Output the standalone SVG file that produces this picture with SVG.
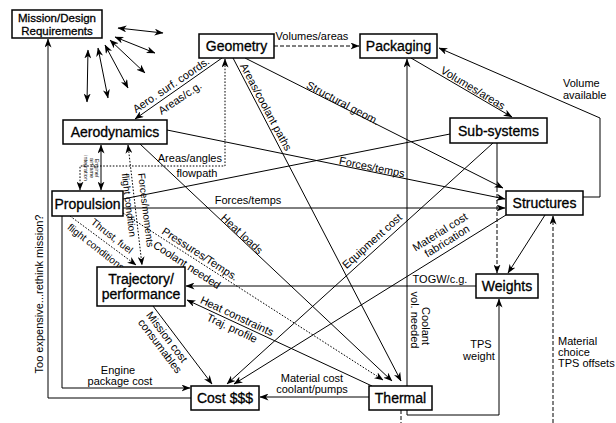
<svg xmlns="http://www.w3.org/2000/svg" width="616" height="423" viewBox="0 0 616 423">
<defs>
<marker id="ah" viewBox="0 0 9 7" refX="8.5" refY="3.5" markerWidth="9" markerHeight="7" markerUnits="userSpaceOnUse" orient="auto-start-reverse">
<path d="M0,0 L9,3.5 L0,7 L2.6,3.5 Z" fill="#000"/>
</marker>
</defs>
<style>
.box{fill:#fff;stroke:#000;stroke-width:1.5}
.nt{font-family:"Liberation Sans",Arial,sans-serif;font-size:14px;text-anchor:middle;fill:#000;stroke:#000;stroke-width:0.3}
.c{fill:none;stroke:#000;stroke-width:1}
.d{stroke-dasharray:1.6,1.6}
.dd{stroke-dasharray:4,2}
.ar{marker-end:url(#ah)}
.ab{marker-start:url(#ah);marker-end:url(#ah)}
.l{font-family:"Liberation Sans",Arial,sans-serif;font-size:11px;fill:#000;text-anchor:middle}
.sm{font-size:10px}
.s{font-family:"Liberation Sans",Arial,sans-serif;font-size:5.5px;fill:#000;text-anchor:middle}
.st{text-anchor:start}
.en{text-anchor:end}
</style>
<rect width="616" height="423" fill="#fff"/>

<g id="connectors">
  <!-- fan of double arrows near Mission/Design Requirements -->
  <path class="c ab" d="M88,50 L87,102"/>
  <path class="c ab" d="M98,48 L108,98"/>
  <path class="c ab" d="M105,45 L128,88"/>
  <path class="c ab" d="M110,40 L145,73"/>
  <path class="c ab" d="M115,37 L155,53"/>
  <path class="c ab" d="M118,28 L163,33"/>

  <!-- Geometry -> Packaging -->
  <path class="c dd ar" d="M274,46 L359,46"/>
  <text class="l" x="312" y="40">Volumes/areas</text>

  <!-- Geometry -> Aerodynamics -->
  <path class="c ar" d="M222,58 L135,119"/>
  <text class="l" transform="translate(171,85) rotate(-34)" y="3.8">Aero. surf. coords.</text>
  <text class="l" transform="translate(180,98) rotate(-34)" y="3.8">Areas/c.g.</text>

  <!-- Geometry -> Structures -->
  <path class="c ar" d="M245,58 L503,188"/>
  <text class="l" transform="translate(343,103) rotate(28)" y="3.8">Structural geom.</text>

  <!-- Geometry -> Thermal -->
  <path class="c ar" d="M233,58 L401,381"/>
  <text class="l" transform="translate(266,107) rotate(62)" y="3.8">Areas/coolant paths</text>

  <!-- Geometry <-> Propulsion (areas/angles, flowpath) -->
  <path class="c d ab" d="M225,59 L225,166 L80,166 L80,190"/>
  <text class="l en" x="222" y="162">Areas/angles</text>
  <text class="l" x="197" y="177">flowpath</text>

  <!-- Aerodynamics -> Structures -->
  <path class="c ar" d="M167,130 L505,199"/>
  <text class="l" transform="translate(372,167) rotate(11.5)" y="3.8">Forces/temps</text>

  <!-- Aerodynamics -> Thermal -->
  <path class="c ar" d="M140,144 L392,381"/>
  <text class="l" transform="translate(242,234) rotate(43)" y="3.8">Heat loads</text>

  <!-- Aerodynamics <-> Propulsion -->
  <path class="c ab" d="M101,145 L101,190"/>
  <g transform="translate(91,168) rotate(90)">
    <text class="s" y="-4">Engine/</text>
    <text class="s" y="1.5">airframe</text>
    <text class="s" y="7">integration</text>
  </g>

  <!-- Aerodynamics <-> Trajectory -->
  <path class="c d ab" d="M128,145 L142,265"/>
  <text class="l sm" transform="translate(146,210) rotate(83)" y="3.5">Forces/moments</text>
  <text class="l sm" transform="translate(129,205) rotate(83)" y="3.5">flight condition</text>

  <!-- Propulsion -> Sub-systems -->
  <path class="c" d="M123,199 L450,134"/>

  <!-- Propulsion -> Structures -->
  <path class="c ar" d="M123,208 L505,208"/>
  <text class="l" x="248" y="204">Forces/temps</text>

  <!-- Propulsion -> Trajectory -->
  <path class="c d ar" d="M70,216 L136,265"/>
  <text class="l sm" transform="translate(112,236) rotate(38)" y="3.5">Thrust, fuel</text>
  <text class="l sm" transform="translate(96,247) rotate(38)" y="3.5">flight conditions</text>

  <!-- Propulsion -> Thermal -->
  <path class="c d ar" d="M123,213 L383,380"/>
  <text class="l" transform="translate(200,254) rotate(33)" y="3.8">Pressures/Temps.</text>
  <text class="l" transform="translate(187,265) rotate(33)" y="3.8">Coolant needed</text>

  <!-- Propulsion -> Cost -->
  <path class="c ar" d="M62,216 L62,388 L190,388"/>
  <text class="l" x="118" y="374">Engine</text>
  <text class="l" x="120" y="385">package cost</text>

  <!-- Cost -> Mission -->
  <path class="c ar" d="M191,398 L48,398 L48,39"/>
  <text class="l" transform="translate(39,294) rotate(-90)" y="3.8">Too expensive...rethink mission?</text>

  <!-- Packaging -> Sub-systems -->
  <path class="c ar" d="M411,58 L512,117"/>
  <text class="l" transform="translate(473,88) rotate(31)" y="3.8">Volumes/areas</text>

  <!-- Structures -> Packaging -->
  <path class="c ar" d="M583,197 L600,197 L600,118 L439,48"/>
  <text class="l st" x="563" y="87">Volume</text>
  <text class="l st" x="563" y="99">available</text>

  <!-- Sub-systems -> Weights -->
  <path class="c" d="M497,143 L497,188"/>
  <path class="c dd ar" d="M497,188 L497,273"/>

  <!-- Sub-systems -> Cost -->
  <path class="c ar" d="M493,143 L227,384"/>
  <text class="l" transform="translate(372,241) rotate(-42)" y="3.8">Equipment cost</text>

  <!-- Structures -> Weights -->
  <path class="c ar" d="M545,215 L508,273"/>

  <!-- Structures -> Cost -->
  <path class="c ar" d="M506,215 L234,384"/>
  <text class="l" transform="translate(440,232) rotate(-32)" y="3.8">Material cost</text>
  <text class="l" transform="translate(447,241) rotate(-32)" y="3.8">fabrication</text>

  <!-- Material choice -> Structures -->
  <path class="c dd ar" d="M553,423 L553,216"/>
  <text class="l st" x="558" y="345">Material</text>
  <text class="l st" x="558" y="356">choice</text>
  <text class="l st" x="558" y="367">TPS offsets</text>

  <!-- Weights -> Trajectory -->
  <path class="c ar" d="M476,286 L186,286"/>
  <text class="l" x="440" y="283">TOGW/c.g.</text>

  <!-- Thermal -> Trajectory -->
  <path class="c ar" d="M372,386 L187,300"/>
  <text class="l" transform="translate(237,316) rotate(25)" y="3.8">Heat constraints</text>
  <text class="l" transform="translate(232,328) rotate(25)" y="3.8">Traj. profile</text>

  <!-- Trajectory -> Cost -->
  <path class="c ar" d="M153,306 L212,384"/>
  <text class="l" transform="translate(167,337) rotate(53)" y="3.8">Mission cost</text>
  <text class="l" transform="translate(160,346) rotate(53)" y="3.8">consumables</text>

  <!-- Thermal -> Packaging -->
  <path class="c ar" d="M407,386 L407,59"/>
  <text class="l" transform="translate(426,326) rotate(90)" y="3.8">Coolant</text>
  <text class="l" transform="translate(415,320) rotate(90)" y="3.8">vol. needed</text>

  <!-- Thermal -> Weights -->
  <path class="c ar" d="M407,410 L407,415 L499,415 L499,299"/>
  <text class="l" x="481" y="348">TPS</text>
  <text class="l" x="479" y="360">weight</text>

  <!-- Thermal -> below -->
  <path class="c dd" d="M401,410 L401,423"/>

  <!-- Thermal -> Cost -->
  <path class="c ar" d="M369,397 L260,397"/>
  <text class="l" x="312" y="382">Material cost</text>
  <text class="l" x="312" y="393">coolant/pumps</text>
</g>

<g id="mission">
  <rect class="box" x="12" y="10" width="90" height="28"/>
  <text class="nt" style="font-size:11.5px" x="57" y="21.5">Mission/Design</text>
  <text class="nt" style="font-size:11.5px" x="57" y="34.5">Requirements</text>
</g>
<g id="geometry">
  <rect class="box" x="199" y="34" width="75" height="24"/>
  <text class="nt" x="236.5" y="51">Geometry</text>
</g>
<g id="packaging">
  <rect class="box" x="360" y="34" width="77" height="24"/>
  <text class="nt" x="398.5" y="51">Packaging</text>
</g>
<g id="aerodynamics">
  <rect class="box" x="63" y="120" width="104" height="24"/>
  <text class="nt" x="115" y="137">Aerodynamics</text>
</g>
<g id="subsystems">
  <rect class="box" x="450" y="118" width="97" height="25"/>
  <text class="nt" x="498.5" y="135.5">Sub-systems</text>
</g>
<g id="propulsion">
  <rect class="box" x="52" y="191" width="71" height="25"/>
  <text class="nt" x="87.5" y="208.5">Propulsion</text>
</g>
<g id="structures">
  <rect class="box" x="506" y="191" width="77" height="24"/>
  <text class="nt" x="544.5" y="208">Structures</text>
</g>
<g id="trajectory">
  <rect class="box" x="97" y="267" width="88" height="39"/>
  <text class="nt" x="141" y="284">Trajectory/</text>
  <text class="nt" x="141" y="299">performance</text>
</g>
<g id="weights">
  <rect class="box" x="476" y="274" width="62" height="24"/>
  <text class="nt" x="507" y="291">Weights</text>
</g>
<g id="cost">
  <rect class="box" x="191" y="386" width="68" height="24"/>
  <text class="nt" x="225" y="403">Cost $$$</text>
</g>
<g id="thermal">
  <rect class="box" x="369" y="386" width="63" height="24"/>
  <text class="nt" x="400.5" y="403">Thermal</text>
</g>
</svg>
